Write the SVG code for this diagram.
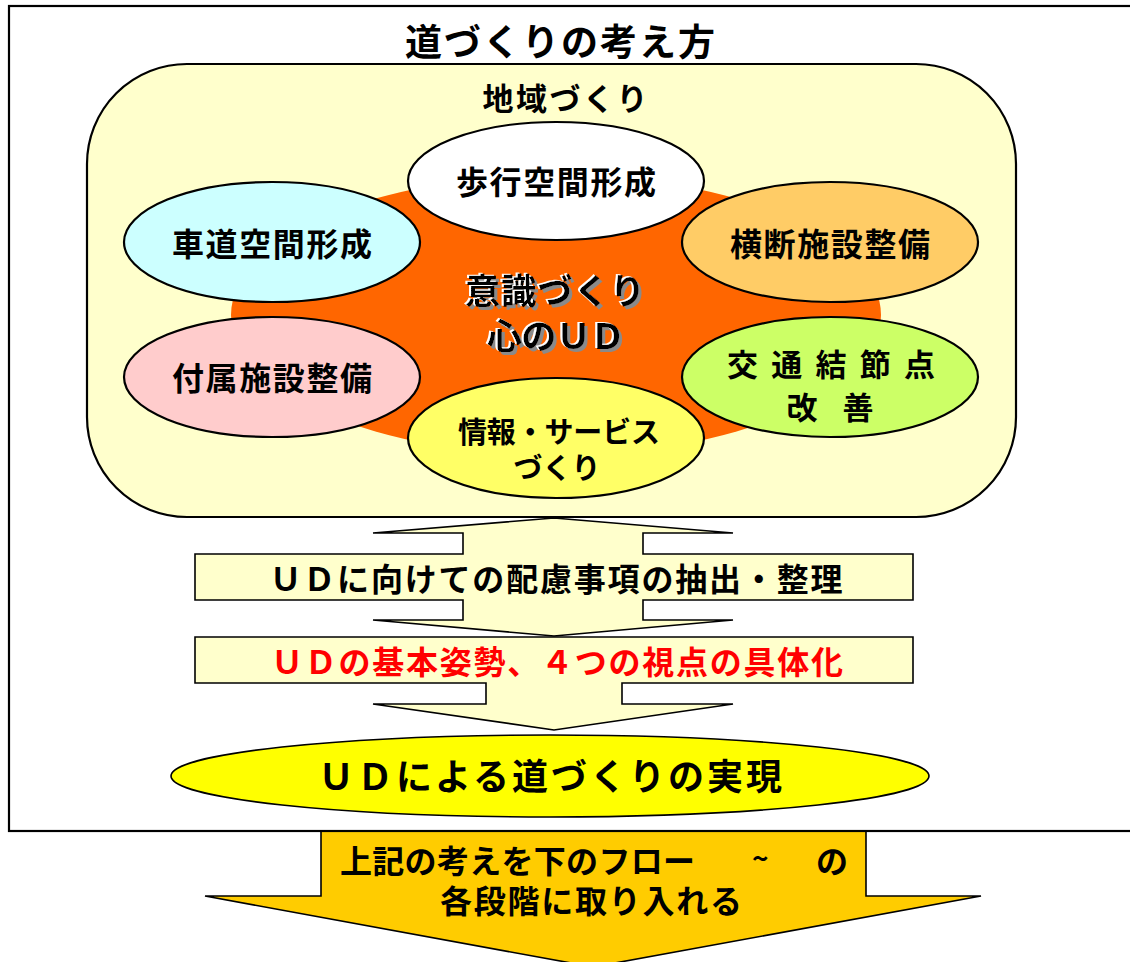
<svg xmlns="http://www.w3.org/2000/svg" width="1130" height="962" viewBox="0 0 1130 962">
<style>
.t{font-family:"Noto Sans CJK JP","Noto Sans CJK SC",sans-serif;font-weight:700;fill:#000;text-anchor:middle;dominant-baseline:central}
.tl{font-family:"Noto Sans CJK JP","Noto Sans CJK SC",sans-serif;font-weight:700;fill:#000;dominant-baseline:central}
.ol{stroke:#000;stroke-width:2.2}
.ar{stroke:#000;stroke-width:1.6;stroke-linejoin:miter}
</style>
<defs>
<filter id="emboss" x="-10%" y="-25%" width="120%" height="150%">
<feFlood flood-color="#8a8a8a"/>
<feComposite in2="SourceAlpha" operator="in"/>
<feOffset dx="3" dy="3" result="sh"/>
<feFlood flood-color="#ffffff"/>
<feComposite in2="SourceAlpha" operator="in"/>
<feOffset dx="-2" dy="-1.5" result="hi"/>
<feMerge><feMergeNode in="sh"/><feMergeNode in="hi"/><feMergeNode in="SourceGraphic"/></feMerge>
</filter>
</defs>
<rect width="1130" height="962" fill="#fff"/>
<g id="bottom-arrow">
<path d="M321,831 L866,831 L866,896 L981,896 L593,967 L205,896 L321,896 Z" fill="#FFCC00"/>
<path d="M866,831 L866,896 L981,896 L593,967 L205,896 L321,896 L321,831" fill="none" class="ar"/>
<text class="tl" x="340" y="859" font-size="32" textLength="355">上記の考えを下のフロー</text>
<text class="tl" x="752" y="857" font-size="28">~</text>
<text class="tl" x="816" y="859" font-size="32">の</text>
<text class="tl" x="440" y="899" font-size="32" textLength="302">各段階に取り入れる</text>
</g>
<g id="frame">
<rect x="9" y="6" width="1140" height="825" fill="none" stroke="#000" stroke-width="2.2"/>
<text class="t" x="560" y="40" font-size="37" textLength="310">道づくりの考え方</text>
</g>
<g id="region">
<rect x="87" y="64" width="929" height="453" rx="100" ry="100" fill="#FFFFCC" class="ol"/>
<text class="t" x="565" y="96" font-size="31" textLength="165">地域づくり</text>
</g>
<g id="core">
<ellipse cx="556" cy="315" rx="325" ry="140" fill="#FF6600"/>
<g filter="url(#emboss)">
<text class="t" x="555" y="288" font-size="35" textLength="180">意識づくり</text>
<text class="t" x="556" y="333" font-size="35" textLength="138">心のＵＤ</text>
</g>
</g>
<g id="n-hoko">
<ellipse cx="556" cy="181" rx="148" ry="59" fill="#FFFFFF" class="ol"/>
<text class="t" x="556" y="180" font-size="32" textLength="200">歩行空間形成</text>
</g>
<g id="n-shado">
<ellipse cx="272" cy="242" rx="148" ry="60" fill="#CCFFFF" class="ol"/>
<text class="t" x="272" y="242" font-size="32" textLength="200">車道空間形成</text>
</g>
<g id="n-odan">
<ellipse cx="830" cy="242" rx="148" ry="60" fill="#FFCC66" class="ol"/>
<text class="t" x="830" y="242" font-size="32" textLength="200">横断施設整備</text>
</g>
<g id="n-fuzoku">
<ellipse cx="272" cy="377" rx="148" ry="60" fill="#FFCCCC" class="ol"/>
<text class="t" x="272" y="376" font-size="32" textLength="200">付属施設整備</text>
</g>
<g id="n-kotsu">
<ellipse cx="830" cy="377" rx="148" ry="60" fill="#CCFF66" class="ol"/>
<text class="t" x="831" y="362" font-size="31" textLength="208">交通結節点</text>
<text class="t" x="830" y="405" font-size="31" textLength="87">改善</text>
</g>
<g id="n-joho">
<ellipse cx="556" cy="438" rx="148" ry="60" fill="#FFFF66" class="ol"/>
<text class="t" x="559" y="430" font-size="29" textLength="202">情報・サービス</text>
<text class="t" x="557" y="466" font-size="29" textLength="87">づくり</text>
</g>
<g id="connectors">
<path d="M554,518 L733,533 L643,533 L643,554 L913,554 L913,600 L643,600 L643,620 L733,620 L554,636 L373,620 L463,620 L463,600 L195,600 L195,554 L463,554 L463,533 L373,533 Z" fill="#FFFFCC" class="ar"/>
<path d="M195,637 L913,637 L913,683 L622,683 L622,704 L733,704 L554,730 L373,704 L486,704 L486,683 L195,683 Z" fill="#FFFFCC" class="ar"/>
</g>
<g id="step1">
<text class="t" x="556" y="577" font-size="32" textLength="573">ＵＤに向けての配慮事項の抽出・整理</text>
</g>
<g id="step2">
<text class="t" x="557" y="660" font-size="32" textLength="572" style="fill:#FF0000">ＵＤの基本姿勢、４つの視点の具体化</text>
</g>
<g id="goal">
<ellipse cx="550" cy="776" rx="379" ry="41" fill="#FFFF00" class="ar"/>
<text class="t" x="550" y="774" font-size="36" textLength="464">ＵＤによる道づくりの実現</text>
</g>
</svg>
